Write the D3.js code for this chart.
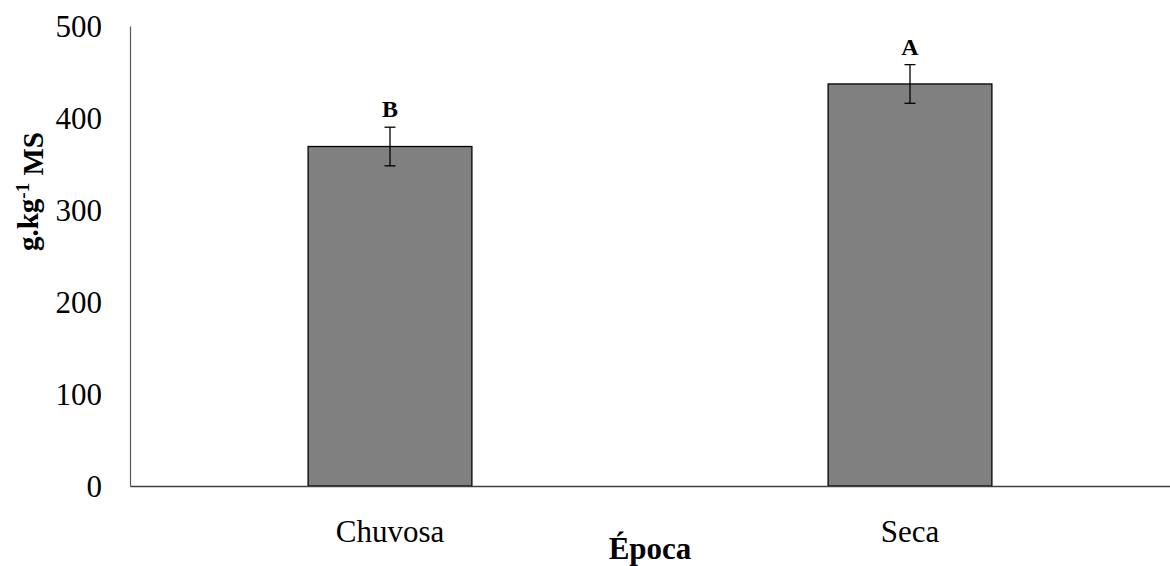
<!DOCTYPE html>
<html>
<head>
<meta charset="utf-8">
<script src="https://cdn.jsdelivr.net/npm/d3@7"></script>
<style>
  body { margin: 0; background: #fff; }
  text { font-family: "Liberation Serif", "Times New Roman", serif; fill: #000; }
</style>
</head>
<body>
<div id="bar-graph"></div>
<script>
// chart values
var categories = ["Chuvosa", "Seca"];
var values = [369, 437];
var errors = [21, 21];
var letters = ["B", "A"];
var yTicks = [0, 100, 200, 300, 400, 500];

var margin = { top: 26, right: 0, bottom: 80, left: 130 },
    width = 1170 - margin.left - margin.right,
    height = 566 - margin.top - margin.bottom;

var svg = d3.select("#bar-graph")
    .append("svg")
    .attr("width", width + margin.left + margin.right)
    .attr("height", height + margin.top + margin.bottom)
    .append("g")
    .attr("transform", "translate(" + margin.left + "," + margin.top + ")");

var data = categories.map(function(c, i) {
    return { cat: c, value: values[i], err: errors[i], letter: letters[i] };
});

// X scale - bars take about 31% of each band
var x = d3.scaleBand()
    .domain(categories)
    .range([0, width])
    .paddingInner(0.685)
    .paddingOuter(0.3425);

var y = d3.scaleLinear()
    .domain([0, 500])
    .range([height, 0]);

// Y axis (no tick marks)
var yAxis = svg.append("g")
    .call(d3.axisLeft(y).tickValues(yTicks).tickSize(0).tickPadding(28));
yAxis.select(".domain").attr("stroke", "#595959").attr("stroke-width", 1.2);
yAxis.selectAll(".tick text")
    .style("font-family", "'Liberation Serif', serif")
    .style("font-size", "31px")
    .attr("fill", "#000")
    .attr("dy", "0.33em");

// bars
svg.selectAll("mybar")
    .data(data)
    .enter()
    .append("rect")
    .attr("x", function(d) { return x(d.cat); })
    .attr("y", function(d) { return y(d.value); })
    .attr("width", x.bandwidth())
    .attr("height", function(d) { return height - y(d.value); })
    .attr("fill", "#808080")
    .attr("stroke", "#000")
    .attr("stroke-width", 1.3);

// X axis line drawn over bar bottoms
var xAxis = svg.append("g")
    .attr("transform", "translate(0," + height + ")")
    .call(d3.axisBottom(x).tickSize(0).tickPadding(34).tickSizeOuter(0));
xAxis.select(".domain").attr("stroke", "#404040").attr("stroke-width", 1.3);
xAxis.selectAll(".tick text")
    .style("font-family", "'Liberation Serif', serif")
    .style("font-size", "31px")
    .attr("fill", "#000")
    .attr("dy", "0.71em");

// error bars
var capHalf = 5.5;
var err = svg.selectAll(".err")
    .data(data)
    .enter()
    .append("g")
    .attr("class", "err")
    .attr("stroke", "#000")
    .attr("stroke-width", 1.3);
err.append("line")
    .attr("x1", function(d) { return x(d.cat) + x.bandwidth() / 2; })
    .attr("x2", function(d) { return x(d.cat) + x.bandwidth() / 2; })
    .attr("y1", function(d) { return y(d.value + d.err); })
    .attr("y2", function(d) { return y(d.value - d.err); });
err.append("line")
    .attr("x1", function(d) { return x(d.cat) + x.bandwidth() / 2 - capHalf; })
    .attr("x2", function(d) { return x(d.cat) + x.bandwidth() / 2 + capHalf; })
    .attr("y1", function(d) { return y(d.value + d.err); })
    .attr("y2", function(d) { return y(d.value + d.err); });
err.append("line")
    .attr("x1", function(d) { return x(d.cat) + x.bandwidth() / 2 - capHalf; })
    .attr("x2", function(d) { return x(d.cat) + x.bandwidth() / 2 + capHalf; })
    .attr("y1", function(d) { return y(d.value - d.err); })
    .attr("y2", function(d) { return y(d.value - d.err); });

// significance letters
svg.selectAll(".letter")
    .data(data)
    .enter()
    .append("text")
    .attr("class", "letter")
    .attr("x", function(d) { return x(d.cat) + x.bandwidth() / 2; })
    .attr("y", function(d) { return y(d.value + d.err) - 10; })
    .attr("text-anchor", "middle")
    .style("font-size", "24px")
    .style("font-weight", "bold")
    .text(function(d) { return d.letter; });

// axis titles
svg.append("text")
    .attr("x", width / 2)
    .attr("y", height + 73)
    .attr("text-anchor", "middle")
    .style("font-size", "31px")
    .style("font-weight", "bold")
    .text("Época");

var yTitle = svg.append("text")
    .attr("transform", "translate(" + (-92) + "," + (y(320)) + ")rotate(-90)")
    .attr("text-anchor", "middle")
    .style("font-size", "29px")
    .style("font-weight", "bold");
yTitle.append("tspan").text("g.kg");
yTitle.append("tspan").attr("dy", "-0.45em").style("font-size", "19px").text("-1");
yTitle.append("tspan").attr("dy", "0.45em").text(" MS");
</script>
</body>
</html>
